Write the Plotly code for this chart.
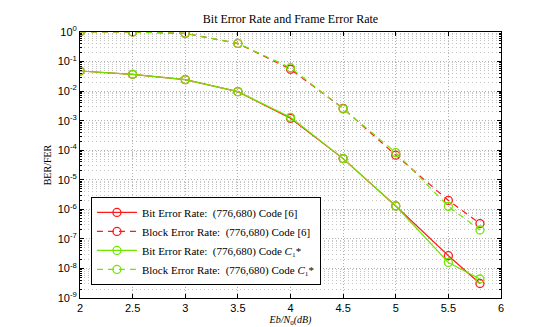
import plotly.graph_objects as go

# Eb/N0 in dB
ebn0 = [2, 2.5, 3, 3.5, 4, 4.5, 5, 5.5, 5.8]

ber_ref = [0.048, 0.037, 0.0245, 0.0096, 0.0012, 5.2e-5, 1.3e-6, 2.7e-8, 3.1e-9]
fer_ref = [1, 1, 0.9, 0.41, 0.055, 0.0026, 6.8e-5, 2.0e-6, 3.3e-7]
ber_c1 = [0.048, 0.037, 0.0245, 0.0096, 0.0013, 5.2e-5, 1.3e-6, 1.6e-8, 4.4e-9]
fer_c1 = [1, 1, 0.9, 0.41, 0.062, 0.0025, 8.3e-5, 1.26e-6, 2.0e-7]

names = [
    "Bit Error Rate:  (776,680) Code [6]",
    "Block Error Rate:  (776,680) Code [6]",
    "Bit Error Rate:  (776,680) Code <i>C</i>\u2081*",
    "Block Error Rate:  (776,680) Code <i>C</i>\u2081*",
]

x_ticks = [2, 2.5, 3, 3.5, 4, 4.5, 5, 5.5, 6]
y_exps = list(range(-9, 1))

RED = "#ff1a1a"
GREEN = "#70e600"
SERIF = "Liberation Serif"
SANS = "Liberation Sans"

fig = go.Figure()
series = [(ber_ref, RED, "solid"), (fer_ref, RED, "dash"),
          (ber_c1, GREEN, "solid"), (fer_c1, GREEN, "dash")]
for (vals, col, dash), nm in zip(series, names):
    fig.add_trace(go.Scatter(
        x=ebn0, y=vals, name=nm, mode="lines+markers",
        line=dict(color=col, width=1.2, dash=dash if dash == "solid" else "6px,5px"),
        marker=dict(symbol="circle-open", size=8, color=col, line=dict(width=1.3)),
    ))

minor_vals = [m * 10 ** e for e in range(-9, 0) for m in range(2, 10)]

fig.update_layout(
    width=545, height=327,
    paper_bgcolor="white", plot_bgcolor="white",
    margin=dict(l=72, r=52, t=24, b=37),
    title=dict(text="Bit Error Rate and Frame Error Rate", x=0.5, xref="paper",
               y=0.955, yanchor="bottom", font=dict(family=SERIF, size=12, color="black")),
    showlegend=True,
    legend=dict(x=0.026, y=0.049, xanchor="left", yanchor="bottom",
                bgcolor="white", bordercolor="black", borderwidth=1,
                font=dict(family=SERIF, size=11, color="black"),
                tracegroupgap=0, itemwidth=40),
    xaxis=dict(range=[2, 6], tickvals=x_ticks, ticktext=[str(t) for t in x_ticks],
               showline=True, linecolor="black", linewidth=1, mirror="ticks",
               ticks="inside", ticklen=4, tickcolor="black",
               showgrid=True, gridcolor="#b0b0b0", griddash="1px,2px", gridwidth=1,
               zeroline=False,
               tickfont=dict(family=SANS, size=11, color="black"),
               title=dict(text="<i>Eb/N</i><sub>0</sub><i>(dB)</i>", standoff=2,
                          font=dict(family=SERIF, size=10, color="black"))),
    yaxis=dict(type="log", range=[-9, 0],
               tickvals=[10 ** e for e in y_exps],
               ticktext=["10<sup>%d</sup>" % e for e in y_exps],
               showline=True, linecolor="black", linewidth=1, mirror="ticks",
               ticks="inside", ticklen=4, tickcolor="black",
               showgrid=True, gridcolor="#b0b0b0", griddash="1px,2px", gridwidth=1,
               minor=dict(tickvals=minor_vals, showgrid=True, gridcolor="#c4c4c4",
                          griddash="1px,3px", gridwidth=1, ticks="inside", ticklen=2,
                          tickcolor="black"),
               tickfont=dict(family=SANS, size=11, color="black"),
               title=dict(text="BER/FER", standoff=4,
                          font=dict(family=SERIF, size=10, color="black"))),
)

fig.write_html("out.html")
